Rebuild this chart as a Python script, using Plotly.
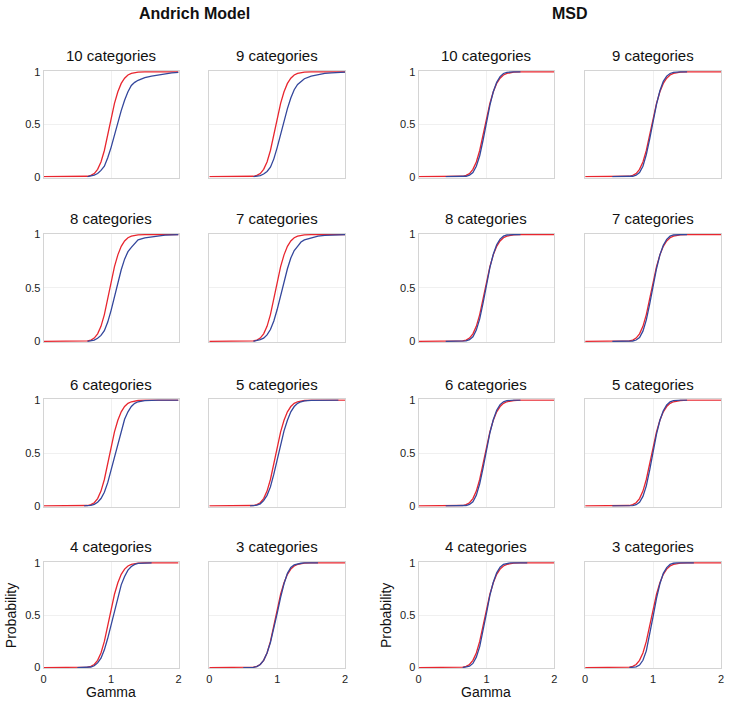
import plotly.graph_objects as go

# ---------------- data ----------------
panel_titles = ["10 categories", "9 categories", "8 categories", "7 categories",
                "6 categories", "5 categories", "4 categories", "3 categories"]
group_titles = ["Andrich Model", "MSD"]

x_ticks = [0, 1, 2]
x_tick_labels = ["0", "1", "2"]
y_ticks = [0, 0.5, 1]
y_tick_labels = ["0", "0.5", "1"]

red_gamma = [0, 0.4, 0.5, 0.6, 0.65, 0.7, 0.75, 0.8, 0.85, 0.9, 0.95, 1.0, 1.05, 1.1,
             1.15, 1.2, 1.25, 1.3, 1.35, 1.4, 1.5, 1.6, 1.7, 1.8, 1.9, 2.0]
red_prob = [0, 0, 0, 0.001, 0.004, 0.012, 0.03, 0.07, 0.14, 0.25, 0.40, 0.56, 0.70, 0.81,
            0.89, 0.94, 0.97, 0.985, 0.993, 0.997, 1.0, 1.0, 1.0, 1.0, 1.0, 1.0]

blue_gamma = [0.4, 0.5, 0.6, 0.65, 0.7, 0.75, 0.8, 0.85, 0.9, 0.95, 1.0, 1.05, 1.1,
              1.15, 1.2, 1.25, 1.3, 1.35, 1.4, 1.5, 1.6, 1.7, 1.8, 1.9, 2.0]

andrich_10 = [None, None, None, 0.0, 0.005, 0.015, 0.03, 0.06, 0.10, 0.18, 0.28, 0.40, 0.52,
              0.63, 0.73, 0.81, 0.87, 0.90, 0.92, 0.945, 0.96, 0.972, 0.982, 0.99, 0.995]
andrich_9 = [None, None, None, 0.0, 0.003, 0.01, 0.025, 0.05, 0.09, 0.17, 0.28, 0.41, 0.53,
             0.65, 0.75, 0.83, 0.88, 0.91, 0.935, 0.96, 0.975, 0.985, 0.99, 0.995, 0.998]
andrich_8 = [None, None, None, 0.0, 0.004, 0.012, 0.028, 0.055, 0.10, 0.18, 0.29, 0.42, 0.55,
             0.67, 0.77, 0.84, 0.88, 0.92, 0.95, 0.97, 0.98, 0.988, 0.994, 0.998, 1.0]
andrich_7 = [None, None, None, 0.0, 0.005, 0.015, 0.03, 0.06, 0.11, 0.19, 0.30, 0.43, 0.56,
             0.68, 0.78, 0.85, 0.89, 0.93, 0.95, 0.97, 0.985, 0.992, 0.996, 0.999, 1.0]
andrich_6 = [None, None, 0.0, 0.002, 0.006, 0.015, 0.035, 0.07, 0.13, 0.22, 0.34, 0.47, 0.60,
             0.72, 0.82, 0.89, 0.94, 0.97, 0.985, 0.995, 1.0, 1.0, 1.0, 1.0, 1.0]
andrich_5 = [None, None, 0.0, 0.002, 0.007, 0.02, 0.05, 0.10, 0.18, 0.30, 0.44, 0.58, 0.71,
             0.81, 0.89, 0.94, 0.97, 0.985, 0.993, 0.998, 1.0, 1.0, 1.0, 1.0, None]
andrich_4 = [None, 0.0, 0.0, 0.002, 0.006, 0.018, 0.045, 0.09, 0.17, 0.28, 0.41, 0.55, 0.68,
             0.79, 0.87, 0.93, 0.965, 0.985, 0.995, 1.0, 1.0, None, None, None, None]
andrich_3 = [None, 0.0, 0.001, 0.003, 0.01, 0.03, 0.07, 0.14, 0.24, 0.37, 0.52, 0.67, 0.80,
             0.90, 0.955, 0.98, 0.99, 0.996, 0.999, 1.0, 1.0, None, None, None, None]

msd_10 = [0.0, 0.0, 0.0, 0.001, 0.004, 0.015, 0.04, 0.10, 0.20, 0.35, 0.52, 0.68, 0.81,
          0.90, 0.955, 0.985, 0.996, 0.999, 1.0, 1.0, None, None, None, None, None]
msd_9 = [0.0, 0.0, 0.0, 0.001, 0.004, 0.014, 0.04, 0.10, 0.21, 0.36, 0.53, 0.69, 0.82,
         0.91, 0.96, 0.985, 0.996, 0.999, 1.0, 1.0, None, None, None, None, None]
msd_8 = [0.0, 0.0, 0.0, 0.001, 0.004, 0.015, 0.042, 0.105, 0.21, 0.36, 0.53, 0.69, 0.815,
         0.905, 0.958, 0.985, 0.996, 0.999, 1.0, 1.0, None, None, None, None, None]
msd_7 = [0.0, 0.0, 0.0, 0.001, 0.003, 0.012, 0.036, 0.095, 0.20, 0.35, 0.52, 0.68, 0.81,
         0.90, 0.955, 0.985, 0.996, 0.999, 1.0, 1.0, None, None, None, None, None]
msd_6 = [0.0, 0.0, 0.0, 0.001, 0.004, 0.014, 0.04, 0.10, 0.21, 0.36, 0.53, 0.69, 0.815,
         0.905, 0.958, 0.985, 0.996, 0.999, 1.0, 1.0, None, None, None, None, None]
msd_5 = [0.0, 0.0, 0.0, 0.001, 0.003, 0.012, 0.035, 0.09, 0.19, 0.34, 0.51, 0.68, 0.81,
         0.90, 0.955, 0.985, 0.996, 0.999, 1.0, 1.0, None, None, None, None, None]
msd_4 = [None, None, None, 0.001, 0.004, 0.014, 0.04, 0.10, 0.20, 0.35, 0.52, 0.69, 0.815,
         0.905, 0.958, 0.986, 0.996, 0.999, 1.0, 1.0, 1.0, None, None, None, None]
msd_3 = [None, None, None, 0.0005, 0.002, 0.008, 0.025, 0.07, 0.16, 0.31, 0.49, 0.66, 0.80,
         0.90, 0.955, 0.985, 0.996, 0.999, 1.0, 1.0, 1.0, None, None, None, None]

andrich_series = [andrich_10, andrich_9, andrich_8, andrich_7,
                  andrich_6, andrich_5, andrich_4, andrich_3]
msd_series = [msd_10, msd_9, msd_8, msd_7, msd_6, msd_5, msd_4, msd_3]

# ---------------- layout geometry (pixels) ----------------
W, H = 730, 706
col_px = [(41, 177), (208, 345), (419, 556), (587, 724)]
row_px = [(67, 175), (232, 342), (400, 509), (565, 673)]

RED = "#e8262f"
BLUE = "#34479c"
FONT = "Liberation Sans, Arial, sans-serif"

fig = go.Figure()
layout_axes = {}
annotations = []

for r in range(4):
    for c in range(4):
        n = r * 4 + c + 1
        group = 0 if c < 2 else 1
        idx = r * 2 + (c % 2)
        blue = (andrich_series if group == 0 else msd_series)[idx]
        xa = "x" if n == 1 else f"x{n}"
        ya = "y" if n == 1 else f"y{n}"
        fig.add_trace(go.Scatter(x=red_gamma, y=red_prob, mode="lines",
                                 line=dict(color=RED, width=1.3),
                                 xaxis=xa, yaxis=ya, showlegend=False,
                                 hoverinfo="skip"))
        fig.add_trace(go.Scatter(x=blue_gamma, y=blue, mode="lines",
                                 line=dict(color=BLUE, width=1.3),
                                 xaxis=xa, yaxis=ya, showlegend=False,
                                 connectgaps=False, hoverinfo="skip"))
        x0, x1 = col_px[c]
        y0, y1 = row_px[r]
        xk = "xaxis" if n == 1 else f"xaxis{n}"
        yk = "yaxis" if n == 1 else f"yaxis{n}"
        layout_axes[xk] = dict(
            domain=[x0 / W, x1 / W], anchor=ya, range=[0, 2],
            tickvals=x_ticks, ticktext=x_tick_labels,
            showticklabels=(r == 3), ticks="",
            showline=True, mirror=True, linecolor="#d4d4d4", linewidth=1,
            showgrid=True, gridcolor="#f0f0f0", gridwidth=1, zeroline=False,
            tickfont=dict(size=11, color="#222222", family=FONT),
        )
        layout_axes[yk] = dict(
            domain=[1 - y1 / H, 1 - y0 / H], anchor=xa, range=[-0.008, 1.008],
            tickvals=y_ticks, ticktext=y_tick_labels,
            showticklabels=(c in (0, 2)), ticks="",
            showline=True, mirror=True, linecolor="#d4d4d4", linewidth=1,
            showgrid=True, gridcolor="#f0f0f0", gridwidth=1, zeroline=False,
            tickfont=dict(size=11, color="#222222", family=FONT),
        )
        annotations.append(dict(
            text=panel_titles[idx], x=(x0 + x1) / 2 / W, y=1 - (y0 - 15.5) / H,
            xref="paper", yref="paper", xanchor="center", yanchor="middle",
            showarrow=False, font=dict(size=15, color="#111111", family=FONT)))

# group titles
for g, (ca, cb) in enumerate([(0, 1), (2, 3)]):
    cx = (col_px[ca][0] + col_px[cb][1]) / 2
    annotations.append(dict(
        text=f"<b>{group_titles[g]}</b>", x=cx / W, y=1 - 8.5 / H,
        xref="paper", yref="paper", xanchor="center", yanchor="middle",
        showarrow=False, font=dict(size=16, color="#111111", family=FONT)))

# axis labels
for c in (0, 2):
    x0, x1 = col_px[c]
    annotations.append(dict(
        text="Gamma", x=(x0 + x1) / 2 / W, y=1 - 697 / H,
        xref="paper", yref="paper", xanchor="center", yanchor="middle",
        showarrow=False, font=dict(size=14, color="#111111", family=FONT)))
    annotations.append(dict(
        text="Probability", x=(x0 - 33) / W, y=1 - 619 / H, textangle=-90,
        xref="paper", yref="paper", xanchor="center", yanchor="middle",
        showarrow=False, font=dict(size=14, color="#111111", family=FONT)))

fig.update_layout(
    width=W, height=H,
    margin=dict(l=0, r=0, t=0, b=0),
    paper_bgcolor="white", plot_bgcolor="white",
    font=dict(family=FONT),
    annotations=annotations,
    **layout_axes,
)

fig.write_html("out.html",
               config={"displayModeBar": False},
               post_script="document.body.style.margin='0';document.body.style.padding='0';")
